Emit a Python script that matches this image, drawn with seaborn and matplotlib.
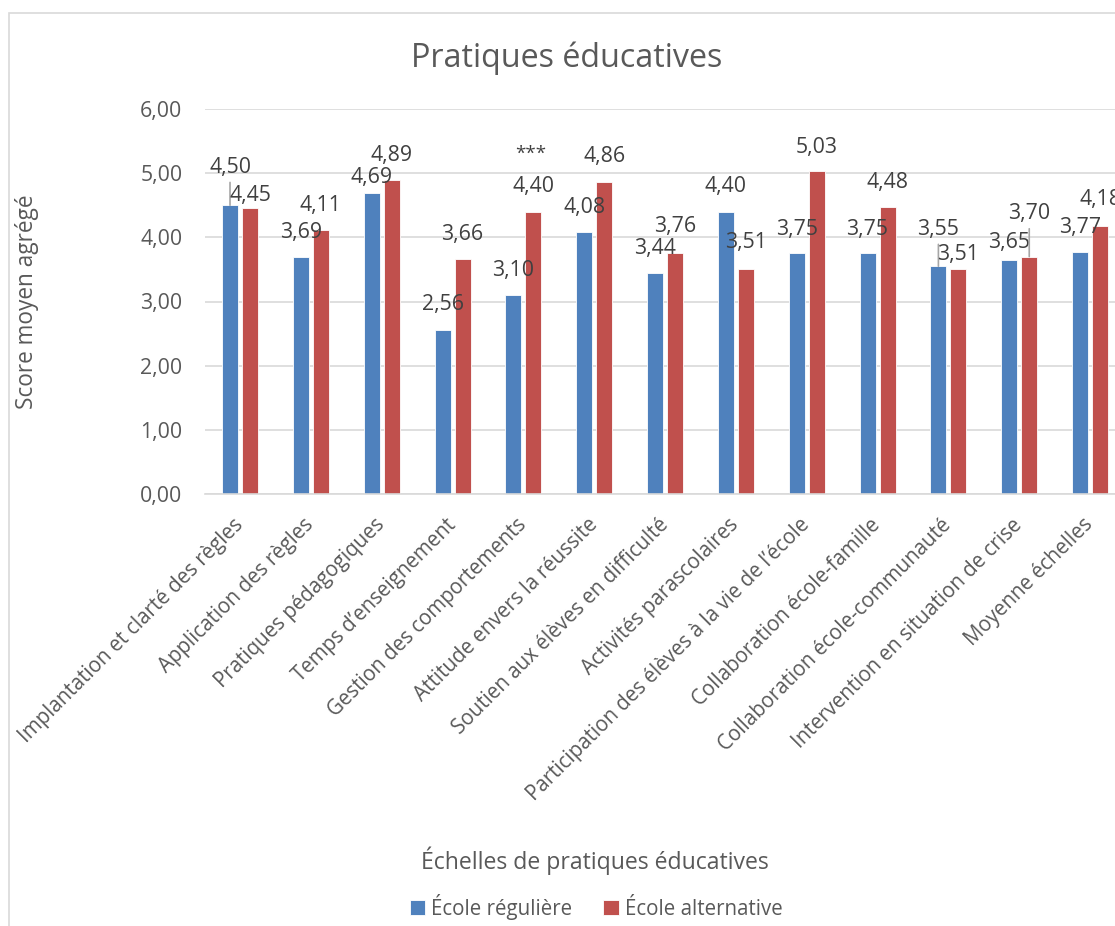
import numpy as np
import pandas as pd
import matplotlib
matplotlib.use("Agg")
import matplotlib.pyplot as plt
from matplotlib.patches import Rectangle
from matplotlib.ticker import FuncFormatter
import seaborn as sns

# ---- data -------------------------------------------------------------
categories = [
    "Implantation et clarté des règles",
    "Application des règles",
    "Pratiques pédagogiques",
    "Temps d’enseignement",
    "Gestion des comportements",
    "Attitude envers la réussite",
    "Soutien aux élèves en difficulté",
    "Activités parascolaires",
    "Participation des élèves à la vie de l’école",
    "Collaboration école-famille",
    "Collaboration école-communauté",
    "Intervention en situation de crise",
    "Moyenne échelles",
]
series_names = ["École régulière", "École alternative"]
reguliere = [4.50, 3.69, 4.69, 2.56, 3.10, 4.08, 3.44, 4.40, 3.75, 3.75, 3.55, 3.65, 3.77]
alternative = [4.45, 4.11, 4.89, 3.66, 4.40, 4.86, 3.76, 3.51, 5.03, 4.48, 3.51, 3.70, 4.18]
significance = ["", "", "", "", "***", "", "", "", "", "", "", "", ""]
y_ticks = [0, 1, 2, 3, 4, 5, 6]

# ---- label placement (pixels above the bar top) -------------------------
label_offset = {
    0: [38, 25, 16, 25, 25, 25, 25, 25, 24, 24, 37, 17, 25],
    1: [13, 25, 25, 25, 25, 26, 26, 26, 24, 24, 14, 43, 26],
}
leader = {0: {0, 10}, 1: {11}}

BLUE = "#4F81BD"
RED = "#C0504D"
TXT = "#595959"
LBL = "#404040"
GRID = "#D9D9D9"
FS = 15.3
FS_TICK = 14.8

sns.set_theme(style="white")
plt.rcParams["font.family"] = ["Open Sans", "DejaVu Sans"]

df = pd.DataFrame({
    "Échelle": categories * 2,
    "Score": reguliere + alternative,
    "École": [series_names[0]] * len(categories) + [series_names[1]] * len(categories),
})

W, H = 1115, 926
fig = plt.figure(figsize=(W / 100, H / 100), dpi=100)
fig.patch.set_facecolor("white")

ax_l, ax_r, ax_t, ax_b = 204.6, 1125.5, 109, 494
ax = fig.add_axes([ax_l / W, 1 - ax_b / H, (ax_r - ax_l) / W, (ax_b - ax_t) / H])

sns.barplot(data=df, x="Échelle", y="Score", hue="École", order=categories,
            hue_order=series_names, palette=[BLUE, RED], saturation=1,
            width=0.565, gap=0.2, errorbar=None, ax=ax,
            edgecolor="white", linewidth=0.6)

handles, labels = ax.get_legend_handles_labels()
if ax.get_legend() is not None:
    ax.get_legend().remove()

ax.set_ylim(0, 6)
ax.set_xlim(-0.5, len(categories) - 0.5)
ax.set_yticks(y_ticks)
ax.yaxis.set_major_formatter(FuncFormatter(lambda v, p: f"{v:.2f}".replace(".", ",")))
ax.grid(axis="y", color=GRID, linewidth=1.2)
ax.grid(axis="x", visible=False)
ax.set_axisbelow(True)
for s in ["left", "right", "top"]:
    ax.spines[s].set_visible(False)
ax.spines["bottom"].set_color(GRID)
ax.spines["bottom"].set_linewidth(1.2)

ax.tick_params(axis="y", length=0, pad=16, labelsize=FS, labelcolor=TXT)
ax.tick_params(axis="x", length=0, pad=20, labelsize=FS_TICK, labelcolor=TXT)
ax.set_xticks(range(len(categories)))
ax.set_xticklabels(categories, rotation=45, ha="right", va="center",
                   rotation_mode="anchor")
ax.set_xlabel("")
ax.set_ylabel("Score moyen agrégé", fontsize=16.3, color=TXT)
ax.yaxis.set_label_coords((39 - ax_l) / (ax_r - ax_l), 0.5)

# value labels
for si, cont in enumerate(ax.containers):
    for i, bar in enumerate(cont):
        x = bar.get_x() + bar.get_width() / 2
        h = bar.get_height()
        txt = f"{h:.2f}".replace(".", ",")
        off = label_offset[si][i]
        if i in leader[si]:
            ax.annotate(txt, xy=(x, h), xytext=(0, off), textcoords="offset pixels",
                        ha="center", va="center", fontsize=FS, color=LBL,
                        arrowprops=dict(arrowstyle="-", color="#A6A6A6", lw=1.2,
                                        shrinkA=1, shrinkB=0, relpos=(0.5, 0.0)))
        else:
            ax.annotate(txt, xy=(x, h), xytext=(0, off), textcoords="offset pixels",
                        ha="center", va="center", fontsize=FS, color=LBL)
        if si == 1 and significance[i]:
            ax.annotate(significance[i], xy=(x, h), xytext=(-3, off + 33),
                        textcoords="offset pixels", ha="center", va="center",
                        fontsize=13.5, color=LBL)

# titles and legend
fig.text(567 / W, 1 - 58 / H, "Pratiques éducatives", ha="center", va="center",
         fontsize=23.2, color=TXT)
fig.text(595 / W, 1 - 861 / H, "Échelles de pratiques éducatives", ha="center",
         va="center", fontsize=16.6, color=TXT)
fig.legend(handles, labels, loc="center", bbox_to_anchor=(596 / W, 1 - 907 / H),
           ncol=2, frameon=False, fontsize=FS_TICK, labelcolor=TXT,
           handlelength=0.75, handleheight=0.75, handletextpad=0.3,
           columnspacing=1.5)

# chart area border
fig.patches.append(Rectangle((9 / W, -0.1), 1.2, 1 - 13 / H + 0.1,
                             transform=fig.transFigure, fill=False,
                             edgecolor=GRID, linewidth=1.2))

fig.savefig("out.png", dpi=100, facecolor="white")
